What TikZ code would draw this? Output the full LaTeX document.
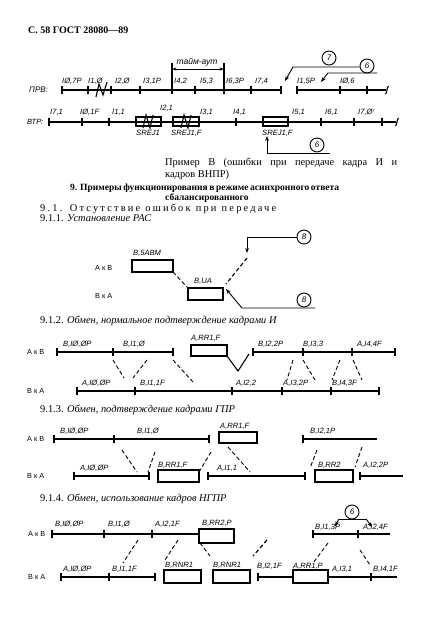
\documentclass[tikz,border=0pt]{standalone}
\usepackage{fontspec}
\setmainfont{Liberation Serif}
\setsansfont{Liberation Sans}
\usetikzlibrary{arrows.meta}
\newcounter{lc}
\newcommand\lb[3]{\stepcounter{lc}\node[lbl] (lb\thelc) at (#1,#2) {#3};}
\newcommand\tk[2]{\draw[tkst] (#1,#2) ++(0,-4) -- ++(0,8);}
\newcommand\fbx[4]{\draw[fr] (#1,#3) rectangle (#2,#4);
  \draw[line width=2pt] (#1,#3) ++(0,-1) -- (#1,#4) -- ++(0,1);
  \draw[line width=2pt] (#2,#3) ++(0,-1) -- (#2,#4) -- ++(0,1);}
\newcommand\send[2]{\draw[ln] (#1,#2) ++(-1.5,4) .. controls +(2,-2) and +(-2,2) .. ++(3,-8);}
\begin{document}
\begin{tikzpicture}[x=1pt,y=-1pt,
  ln/.style={line width=1.1pt},
  tkst/.style={line width=1.1pt},
  fr/.style={line width=1.2pt},
  dsh/.style={line width=0.9pt, dash pattern=on 4pt off 2.5pt},
  lbl/.style={font=\sffamily\itshape\fontsize{7.6}{8}\selectfont, inner sep=0pt, anchor=base west},
  sl/.style={font=\sffamily\fontsize{7.3}{8}\selectfont, inner sep=0pt, anchor=base west},
  body/.style={font=\fontsize{10.4}{12}\selectfont, inner sep=0pt, anchor=base west},
  bodyb/.style={font=\bfseries\fontsize{9.5}{11}\selectfont, inner sep=0pt, anchor=base west},
  cir/.style={circle, draw, line width=0.9pt, minimum size=14pt, inner sep=0pt, font=\sffamily\itshape\fontsize{8}{9}\selectfont},
  arr/.style={line width=0.9pt, -{Stealth[length=5pt,width=3.8pt]}},
]
\useasboundingbox (0,0) rectangle (422,639);
\node[inner sep=0pt, anchor=base west, font=\bfseries\fontsize{10}{12}\selectfont] (hdr) at (28,34) {С. 58 ГОСТ 28080—89};

% ---------------- top: ПРВ / ВТР ----------------
\node[sl, font=\sffamily\itshape\fontsize{8}{9}\selectfont] (prv) at (29,93) {ПРВ:};
\draw[ln] (62,90) -- (281,90);
\foreach \x in {62,88,111,140,172,195,224,251,281} {\tk{\x}{90}}
\draw[ln] (96,97) -- (99,84) -- (103,95) -- (107,82);
\draw[ln] (297,90) -- (386,90);
\foreach \x in {297,340,367} {\tk{\x}{90}}
\send{387}{90}
\lb{62}{84}{IØ,7P} \lb{88}{84}{I1,Ø} \lb{115}{84}{I2,Ø} \lb{143}{84}{I3,1P}
\lb{174}{84}{I4,2} \lb{200}{84}{I5,3} \lb{226}{84}{I6,3P} \lb{255}{84}{I7,4}
\lb{297}{84}{I1,5P} \lb{340}{84}{IØ,6}
% time-out
\draw[ln] (172,63) -- (172,90);
\draw[ln] (224,63) -- (224,90);
\draw[line width=0.8pt, {Stealth[length=4.5pt,width=3.2pt]}-{Stealth[length=4.5pt,width=3.2pt]}] (172,69) -- (224,69);
\node[font=\sffamily\itshape\fontsize{8.5}{9}\selectfont, inner sep=0pt] (tout) at (197,62) {тайм-аут};
% circles 7 and 6
\node[cir] (c7) at (329,58) {7};
\node[cir] (c6) at (367,66) {6};
\draw[arr] (c6.west |- 0,67) -- (293,67) -- (285,81);
\draw[arr] (377,73) -- (328,73) -- (321,82);

\node[sl, font=\sffamily\itshape\fontsize{7.5}{8}\selectfont] (vtr) at (27,125) {ВТР:};
\draw[ln] (49,122) -- (396,122);
\foreach \x in {49,82,109,236,321,354,382} {\tk{\x}{122}}
\send{397}{122}
\fbx{136}{161}{117}{126}
\fbx{173}{199}{117}{126}
\fbx{263}{288}{117}{126}
\draw[ln] (143,128) -- (146,115) -- (150,128) -- (153,115);
\draw[ln] (181,128) -- (184,115) -- (188,128) -- (191,115);
\lb{50}{115}{I7,1} \lb{80}{115}{IØ,1F} \lb{112}{115}{I1,1} \lb{160}{111}{I2,1}
\lb{200}{115}{I3,1} \lb{233}{115}{I4,1} \lb{292}{115}{I5,1} \lb{325}{115}{I6,1}
\lb{358}{115}{I7,Ø$'$}
\lb{136}{136}{SREJ1} \lb{171}{136}{SREJ1,F} \lb{262}{136}{SREJ1,F}
\node[cir] (c6b) at (317,145) {6};
\draw[arr] (330,153) -- (267,153) -- (267,136);

% ---------------- text ----------------
\node[body] (t1) at (165,166) {\makebox[232pt][s]{Пример В (ошибки при передаче кадра И и}};
\node[body] (t2) at (165,177) {кадров ВНПР)};
\node[bodyb] (t3) at (70,190) {\makebox[268pt][s]{9. Примеры функционирования в режиме асинхронного ответа}};
\node[bodyb] (t4) at (165,200) {сбалансированного};
\node[body] (t5) at (40,211) {\makebox[236pt][s]{\addfontfeature{LetterSpace=21}9.1. Отсутствие ошибок при передаче}};
\node[body] (t6) at (40,221) {9.1.1. \textit{Установление РАС}};

% ---------------- 9.1.1 ----------------
\node[sl] (a1) at (95,270) {А к В};
\node[sl] (b1) at (95,298) {В к А};
\fbx{132}{173}{260}{272}
\fbx{188}{223}{288}{300}
\lb{133}{255}{B,5ABM} \lb{194}{283}{B,UA}
\draw[dsh] (173,272) -- (187,287);
\node[cir] (c8a) at (304,237) {8};
\draw[arr] (c8a.west) -- (247,237) -- (247,253);
\draw[dsh, line width=1.1pt] (247,258) -- (226,284);
\node[cir] (c8b) at (304,300) {8};
\draw[arr] (315,308) -- (242,308) -- (226,289);

% ---------------- 9.1.2 ----------------
\node[body] (h2) at (40,323) {9.1.2. \textit{Обмен, нормальное подтверждение кадрами И}};
\node[sl] (a2) at (27,354) {А к В};
\draw[ln] (57,352) -- (173,352);
\foreach \x in {57,113,173} {\tk{\x}{352}}
\lb{63}{346}{B,IØ,ØP} \lb{123}{346}{B,I1,Ø}
\fbx{191}{227}{345}{356}
\lb{191}{340}{A,RR1,F}
\draw[ln] (227,356) -- (238,371) -- (249,354);
\draw[ln] (253,352) -- (395,352);
\foreach \x in {253,303,352,395} {\tk{\x}{352}}
\lb{258}{346}{B,I2,2P} \lb{303}{346}{B,I3,3} \lb{357}{346}{A,I4,4F}
\node[sl] (b2) at (27,393) {В к А};
\draw[ln] (77,391) -- (379,391);
\foreach \x in {77,135,232,282,331,379} {\tk{\x}{391}}
\lb{82}{385}{A,IØ,ØP} \lb{140}{385}{B,I1,1F} \lb{236}{385}{A,I2,2}
\lb{283}{385}{A,I3,2P} \lb{332}{385}{B,I4,3F}
\draw[dsh] (113,360) -- (124,378);
\draw[dsh] (147,360) -- (133,378);
\draw[dsh] (173,360) -- (193,382);
\draw[dsh] (293,360) -- (287,380);
\draw[dsh] (303,360) -- (315,380);
\draw[dsh] (340,360) -- (332,380);
\draw[dsh] (353,360) -- (362,380);

% ---------------- 9.1.3 ----------------
\node[body] (h3) at (40,412) {9.1.3. \textit{Обмен, подтверждение кадрами ГПР}};
\node[sl] (a3) at (27,441) {А к В};
\draw[ln] (54,439) -- (209,439);
\foreach \x in {54,114,209} {\tk{\x}{439}}
\lb{60}{433}{B,IØ,ØP} \lb{137}{433}{B,I1,Ø}
\fbx{219}{257}{432}{443}
\lb{220}{428}{A,RR1,F}
\draw[ln] (303,439) -- (377,439);
\tk{303}{439}
\lb{310}{433}{B,I2,1P}
\node[sl] (b3) at (27,478) {В к А};
\draw[ln] (74,476) -- (149,476);
\foreach \x in {74,149} {\tk{\x}{476}}
\lb{80}{470}{A,IØ,ØP}
\fbx{158}{199}{470}{482}
\lb{158}{467}{B,RR1,F}
\draw[ln] (208,476) -- (305,476);
\foreach \x in {208,305} {\tk{\x}{476}}
\lb{217}{470}{A,I1,1}
\fbx{315}{353}{470}{482}
\lb{318}{467}{B,RR2}
\draw[ln] (360,476) -- (403,476);
\tk{360}{476}
\lb{363}{467}{A,I2,2P}
\draw[dsh] (122,450) -- (137,472);
\draw[dsh] (155,452) -- (148,472);
\draw[dsh] (211,452) -- (199,472);
\draw[dsh] (228,447) -- (250,472);
\draw[dsh] (317,450) -- (310,468);
\draw[dsh] (362,447) -- (355,467);

% ---------------- 9.1.4 ----------------
\node[body] (h4) at (40,501) {9.1.4. \textit{Обмен, использование кадров НГПР}};
\node[sl] (a4) at (28,536) {А к В};
\draw[ln] (52,534) -- (199,534);
\foreach \x in {52,104,152} {\tk{\x}{534}}
\lb{55}{526}{B,IØ,ØP} \lb{108}{526}{B,I1,Ø} \lb{155}{526}{A,I2,1F}
\fbx{199}{234}{529}{543}
\lb{202}{525}{B,RR2,P}
\draw[ln] (313,534) -- (390,534);
\foreach \x in {313,358} {\tk{\x}{534}}
\lb{315}{529}{B,I1,3P} \lb{363}{529}{A,I2,4F}
\node[cir] (c6c) at (352,512) {6};
\draw[line width=0.9pt] (339,519) -- (366,519);
\draw[arr] (339,519) -- (335,526);
\draw[arr] (366,519) -- (372,527);
\node[sl] (b4) at (28,579) {В к А};
\draw[ln] (61,577) -- (155,577);
\foreach \x in {61,109,155} {\tk{\x}{577}}
\lb{63}{571}{A,IØ,ØP} \lb{112}{571}{B,I1,1F}
\fbx{164}{201}{570}{583}
\lb{165}{567}{B,RNR1}
\fbx{213}{250}{570}{583}
\lb{213}{567}{B,RNR1}
\draw[ln] (258,577) -- (293,577);
\tk{258}{577}
\fbx{293}{328}{570}{583}
\draw[ln] (328,577) -- (397,577);
\tk{371}{577}
\lb{257}{568}{B,I2,1F} \lb{293}{568}{A,RR1,P} \lb{332}{571}{A,I3,1} \lb{373}{571}{B,I4,1F}
\draw[dsh] (138,540) -- (123,563);
\draw[dsh] (178,540) -- (165,560);
\draw[dsh] (200,543) -- (210,556);
\draw[dsh, line width=1.2pt] (267,540) -- (253,556);
\draw[dsh] (328,543) -- (313,563);
\draw[dsh] (360,550) -- (370,565);
\end{tikzpicture}
\end{document}
